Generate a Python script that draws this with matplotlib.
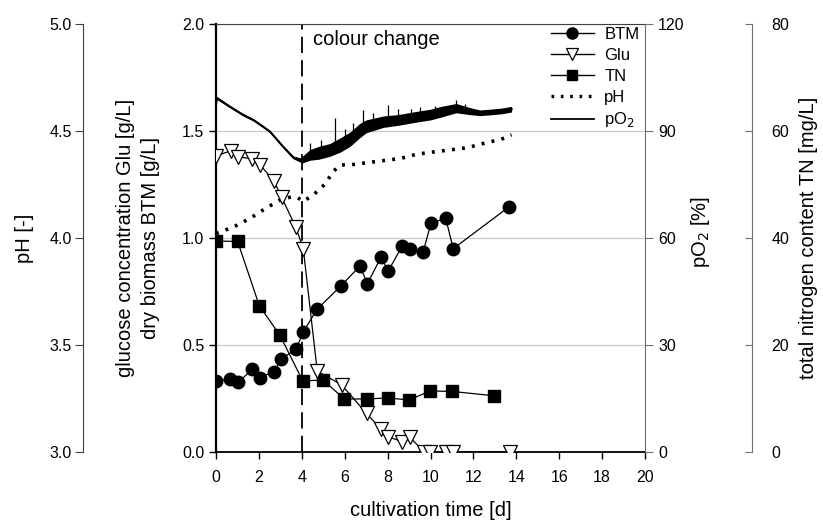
import matplotlib
matplotlib.use('Agg')
import matplotlib.pyplot as plt
import numpy as np
from matplotlib.lines import Line2D

plt.rcParams['font.family'] = ['Liberation Sans', 'DejaVu Sans']
plt.rcParams['font.size'] = 11.5

# dry biomass BTM [g/L]
btm_t = [0, 0.65, 1.04, 1.69, 2.05, 2.7, 3.03, 3.73, 4.07, 4.72, 5.83, 6.71, 7.06,
         7.69, 8.03, 8.68, 9.04, 9.66, 10.02, 10.71, 11.06, 13.67]
btm = [0.331, 0.34, 0.325, 0.386, 0.347, 0.375, 0.434, 0.479, 0.561, 0.667, 0.776,
       0.868, 0.786, 0.909, 0.845, 0.961, 0.948, 0.935, 1.067, 1.091, 0.949, 1.145]

# glucose Glu [g/L]
glu_t = [0, 0.7, 1.04, 1.69, 2.05, 2.7, 3.06, 3.72, 4.07, 4.72, 5.86, 7.02, 7.69,
         8.03, 8.69, 9.04, 9.7, 10.0, 10.7, 11.06, 13.7]
glu = [1.382, 1.406, 1.378, 1.368, 1.34, 1.266, 1.189, 1.049, 0.948, 0.378, 0.313,
       0.18, 0.106, 0.071, 0.048, 0.069, 0.0, 0.0, 0.0, 0.0, 0.0]

# total nitrogen TN [mg/L]
tn_t = [0, 1.01, 2.02, 2.98, 4.04, 5.0, 5.98, 7.02, 8.03, 9.0, 9.98, 11.02, 12.97]
tn = [39.4, 39.3, 27.3, 21.8, 13.3, 13.4, 9.9, 9.9, 10.1, 9.7, 11.4, 11.3, 10.5]

# pH [-]
ph_t = [0, 0.81, 1.58, 2.36, 3.06, 3.5, 3.76, 4.07, 4.54, 5.08, 5.47, 5.8, 6.25,
        7.0, 7.8, 8.6, 9.36, 10.1, 10.9, 11.7, 12.46, 13.3, 13.78]
ph = [4.02, 4.05, 4.09, 4.14, 4.18, 4.19, 4.19, 4.17, 4.20, 4.25, 4.31, 4.34, 4.34,
      4.35, 4.36, 4.37, 4.39, 4.40, 4.41, 4.42, 4.44, 4.46, 4.48]

# pO2 [%]: centre of the trace and half width of the noise band
po2_t = [0, 0.05, 0.65, 1.27, 1.74, 2.2, 2.52, 3.13, 3.6, 3.92, 4.0, 4.38, 4.8, 5.31,
         5.8, 6.25, 6.7, 7.0, 7.8, 8.5, 9.36, 10.0, 10.5, 11.2, 11.8, 12.3, 12.77,
         13.3, 13.78]
po2 = [97.5, 99.1, 96.7, 94.4, 93.0, 91.1, 89.7, 85.5, 82.5, 81.8, 81.8, 83.2, 83.8,
       84.6, 86.0, 87.6, 90.0, 91.2, 92.5, 93.0, 93.9, 94.5, 95.3, 96.3, 95.5, 95.0,
       95.2, 95.5, 96.0]
po2_w = [0.3, 0.4, 0.3, 0.3, 0.3, 0.3, 0.3, 0.3, 0.4, 0.6, 0.9, 1.5, 1.8, 1.8,
         2.0, 2.0, 2.0, 1.8, 1.6, 1.5, 1.5, 1.5, 1.5, 1.3, 1.0, 0.8, 0.8, 0.8, 0.8]
spike_t = [4.4, 4.9, 5.55, 6.0, 6.4, 6.87, 7.3, 8.02, 8.5, 9.1, 9.5, 10.2, 11.2, 11.6]
spike_top = [86.5, 87.5, 93.4, 90.5, 92.0, 95.8, 95.0, 97.2, 96.0, 96.0, 96.5, 97.0,
             98.6, 97.5]

color_change = 4

W, H = 823, 521
fig = plt.figure(figsize=(W / 100, H / 100), dpi=100)
ax = fig.add_axes([216 / W, 1 - 452 / H, 429 / W, 428.5 / H])
ax.set_xlim(0, 20)
ax.set_ylim(0, 2)
ax.set_xticks(np.arange(0, 21, 2))
ax.set_yticks(np.arange(0, 2.01, 0.5))
ax.yaxis.set_major_formatter(matplotlib.ticker.FormatStrFormatter('%.1f'))
ax.grid(True, axis='y', color='#c8c8c8', linewidth=0.9)
ax.tick_params(direction='out', length=5, width=1)
ax.tick_params(axis='x', pad=8)
ax.spines['left'].set_linewidth(1.6)
ax.spines['bottom'].set_linewidth(1.3)
ax.spines['top'].set_color('#404040')
ax.spines['right'].set_visible(False)

ax.axvline(color_change, color='black', linestyle=(0, (9, 4)), linewidth=1.3)
ax.text(4.5, 1.9, 'colour change', fontsize=14.5)

# pH axis (left, outer)
ax_ph = ax.twinx()
ax_ph.set_ylim(3, 5)
ax_ph.set_yticks(np.arange(3, 5.01, 0.5))
ax_ph.yaxis.set_major_formatter(matplotlib.ticker.FormatStrFormatter('%.1f'))
ax_ph.yaxis.set_ticks_position('left')
for s in ['top', 'bottom', 'right']:
    ax_ph.spines[s].set_visible(False)
ax_ph.spines['left'].set_position(('axes', -0.31))
ax_ph.spines['left'].set_color('#404040')
ax_ph.tick_params(direction='out', length=6, pad=2, colors='#404040',
                  labelcolor='black')
ax_ph.plot(ph_t, ph, color='black', linestyle=(0, (0.8, 2.0)), linewidth=2.6)

# pO2 axis (right, inner)
ax_o2 = ax.twinx()
ax_o2.set_ylim(0, 120)
ax_o2.set_yticks(np.arange(0, 121, 30))
for s in ['top', 'bottom', 'left']:
    ax_o2.spines[s].set_visible(False)
ax_o2.spines['right'].set_color('#707070')
ax_o2.tick_params(direction='out', length=6, colors='#707070', labelcolor='black')
lo = [c - w for c, w in zip(po2, po2_w)]
hi = [c + w for c, w in zip(po2, po2_w)]
ax_o2.fill_between(po2_t, lo, hi, color='black', linewidth=0)
ax_o2.plot(po2_t, po2, color='black', linewidth=1.5)
ax_o2.vlines(spike_t, np.interp(spike_t, po2_t, po2), spike_top,
             color='black', linewidth=0.9)

# TN axis (right, outer)
ax_tn = ax.twinx()
ax_tn.set_ylim(0, 80)
ax_tn.set_yticks(np.arange(0, 81, 20))
for s in ['top', 'bottom', 'left']:
    ax_tn.spines[s].set_visible(False)
ax_tn.spines['right'].set_position(('axes', 1.2494))
ax_tn.spines['right'].set_color('#707070')
ax_tn.tick_params(direction='in', length=5, pad=14, colors='#707070',
                  labelcolor='black')
ax_tn.plot(tn_t, tn, color='black', linewidth=0.9, marker='s', markersize=8,
           markerfacecolor='black', markeredgecolor='black')

# BTM and Glu on the main scale, drawn on top
ax_top = ax.twinx()
ax_top.set_ylim(0, 2)
ax_top.axis('off')
ax_top.plot(btm_t, btm, color='black', linewidth=0.9, marker='o', markersize=9,
            markerfacecolor='black')
ax_top.plot(glu_t, glu, color='black', linewidth=0.9, marker='v', markersize=9.5,
            markerfacecolor='white', markeredgecolor='black', markeredgewidth=0.9)

handles = [
    Line2D([], [], color='black', lw=1, marker='o', markersize=8),
    Line2D([], [], color='black', lw=1, marker='v', markersize=8,
           markerfacecolor='white', markeredgewidth=0.9),
    Line2D([], [], color='black', lw=1, marker='s', markersize=7),
    Line2D([], [], color='black', lw=2.4, linestyle=(0, (0.8, 2.0))),
    Line2D([], [], color='black', lw=1.3),
]
labels = ['BTM', 'Glu', 'TN', 'pH', 'pO$_2$']
ax_top.legend(handles, labels, loc='upper right', bbox_to_anchor=(1.01, 1.015),
              frameon=False, handlelength=2.6, handletextpad=0.6,
              labelspacing=0.35, fontsize=12, borderaxespad=0.2)

# axis titles placed by their centres
lab = dict(fontsize=14.5, rotation=90, ha='center', va='center')
yc = 1 - 238 / H
fig.text(25 / W, yc, 'pH [-]', **lab)
fig.text(138 / W, yc, 'glucose concentration Glu [g/L]\ndry biomass BTM [g/L]',
         linespacing=1.4, **lab)
fig.text(700 / W, 1 - 232 / H, 'pO$_2$ [%]', **lab)
fig.text(808 / W, yc, 'total nitrogen content TN [mg/L]', **lab)
fig.text(431 / W, 1 - 510 / H, 'cultivation time [d]', fontsize=14.5,
         ha='center', va='center')

fig.savefig('out.png', dpi=100)
